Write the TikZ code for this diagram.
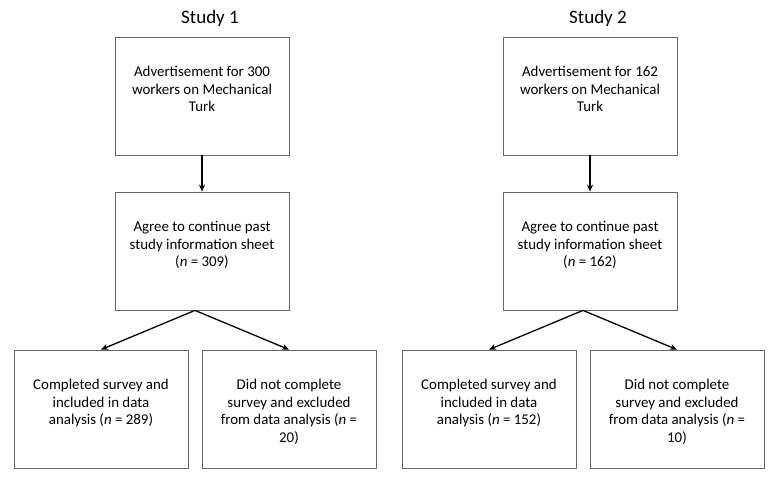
\documentclass[tikz,border=0pt]{standalone}
\usepackage{fontspec}
\setmainfont{Carlito}
\usetikzlibrary{arrows.meta}
\tikzset{
    box/.style={draw=black!60, line width=.8pt, minimum width=174pt, minimum height=118pt, inner sep=0pt},
    txt/.style={anchor=north, align=center, inner sep=0pt, font=\fontsize{14.9}{17.6}\selectfont},
    ttl/.style={font=\fontsize{19}{22}\selectfont},
}
\begin{document}
\begin{tikzpicture}[x=1pt, y=-1pt, >={Stealth[length=7pt,width=6pt]}, line width=1.3pt]
\useasboundingbox (0,0) rectangle (777,481);
\foreach \s/\dx/\adv/\agr/\inc/\exc in {1/0/300/309/289/20, 2/388/162/162/152/10}
{
    \node[ttl] (t\s) at (210+\dx,18) {Study \s};
    % boxes
    \node[box] (a\s) at (202+\dx,96) {};
    \node[box] (b\s) at (202+\dx,251) {};
    \node[box] (c\s) at (101+\dx,409) {};
    \node[box] (d\s) at (289+\dx,409) {};
    % texts
    \node[txt] (ta\s) at ([yshift=-29pt]a\s.north) {Advertisement for \adv\\workers on Mechanical\\Turk};
    \node[txt] (tb\s) at ([yshift=-29pt]b\s.north) {Agree to continue past\\study information sheet\\(\textit{n} = \agr)};
    \node[txt] (tc\s) at ([yshift=-29pt]c\s.north) {Completed survey and\\included in data\\analysis (\textit{n} = \inc)};
    \node[txt] (td\s) at ([yshift=-29pt]d\s.north) {Did not complete\\survey and excluded\\from data analysis (\textit{n} =\\\exc)};
    % arrows
    \coordinate (j\s) at ([xshift=-7pt]b\s.south);
    \draw[->] (a\s) -- (b\s);
    \draw[->] (j\s) -- (c\s.north);
    \draw[->] (j\s) -- (d\s.north);
}
\end{tikzpicture}
\end{document}
